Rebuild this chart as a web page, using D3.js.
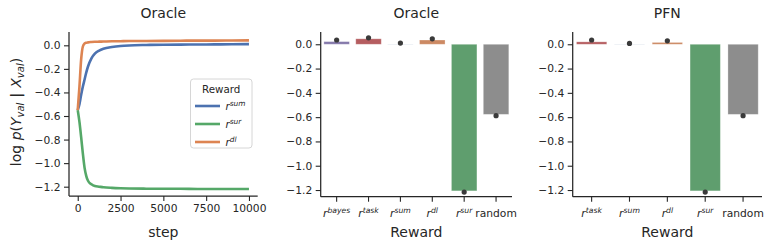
<!DOCTYPE html>
<html>
<head>
<meta charset="utf-8">
<script src="https://cdn.jsdelivr.net/npm/d3@7"></script>
<style>
  body { margin: 0; background: #fff; }
  svg text { font-family: "DejaVu Sans", sans-serif; fill: #262626; }
</style>
</head>
<body>
<script>
// ---- data ----
const steps     = [0, 100, 200, 300, 400, 500, 600, 800, 1000, 1250, 1500, 2000, 2500, 3000, 4000, 5000, 6000, 7000, 8000, 9000, 10000]
const curveSum  = [-0.55, -0.50, -0.42, -0.35, -0.29, -0.23, -0.18, -0.11, -0.07, -0.045, -0.03, -0.015, -0.006, -0.001, 0.003, 0.005, 0.006, 0.007, 0.008, 0.009, 0.01]
const curveSur  = [-0.55, -0.65, -0.78, -0.92, -1.04, -1.11, -1.15, -1.18, -1.195, -1.20, -1.205, -1.21, -1.213, -1.215, -1.217, -1.218, -1.218, -1.219, -1.219, -1.22, -1.22]
const curveDl   = [-0.55, -0.35, -0.12, -0.01, 0.015, 0.022, 0.025, 0.028, 0.03, 0.031, 0.032, 0.034, 0.035, 0.036, 0.037, 0.038, 0.039, 0.040, 0.040, 0.041, 0.042]
const curveKeys = ["sum", "sur", "dl"]

const oracleCats = ["bayes", "task", "sum", "dl", "sur", "random"]
const oracleBars = [0.022, 0.045, 0.001, 0.035, -1.207, -0.577]
const oracleDots = [0.035, 0.053, 0.010, 0.045, -1.217, -0.588]

const pfnCats = ["task", "sum", "dl", "sur", "random"]
const pfnBars = [0.020, 0.001, 0.015, -1.207, -0.577]
const pfnDots = [0.035, 0.007, 0.028, -1.217, -0.588]

const stepTicks = [0, 2500, 5000, 7500, 10000]
const yTicks = [0, -0.2, -0.4, -0.6, -0.8, -1.0, -1.2]

// seaborn "deep" palette, lines full colour, bars desaturated
const lineColor = { sum: "#4c72b0", sur: "#55a868", dl: "#dd8452" }
const barColor = { bayes: "#857aab", task: "#b55d60", sum: "#5975a4", dl: "#cc8963", sur: "#5f9e6e", random: "#8d8d8d" }

const W = 769, H = 247
const svg = d3.select("body").append("svg").attr("width", W).attr("height", H)

const fmt = d => d3.format(".1f")(d).replace("-", "\u2212")

function spines(g, x0, x1, y0, y1) {
    g.append("line").attr("x1", x0).attr("x2", x0).attr("y1", y0).attr("y2", y1)
        .attr("stroke", "#262626").attr("stroke-width", 1.25)
    g.append("line").attr("x1", x0).attr("x2", x1).attr("y1", y1).attr("y2", y1)
        .attr("stroke", "#262626").attr("stroke-width", 1.25)
}

function styleAxis(a) {
    a.select(".domain").remove()
    a.selectAll(".tick line").attr("stroke", "#262626").attr("stroke-width", 1.1)
    a.selectAll(".tick text").attr("font-size", 10.7).style("font-family", "DejaVu Sans")
}

function yAxis(g, y, x0) {
    const a = g.append("g").attr("transform", `translate(${x0},0)`)
        .call(d3.axisLeft(y).tickValues(yTicks).tickFormat(fmt).tickSize(5).tickPadding(3.5))
    styleAxis(a)
}

// r with italic superscript
function rLabel(sel, key, size) {
    if (key === "random") { sel.text("random"); return }
    sel.append("tspan").attr("font-style", "italic").text("r")
    sel.append("tspan").attr("font-style", "italic").attr("font-size", size * 0.72)
        .attr("dy", -size * 0.38).text(key)
}

function title(g, x, txt) {
    g.append("text").attr("x", x).attr("y", 18).attr("text-anchor", "middle")
        .attr("font-size", 14).text(txt)
}

// ---- panel 1: training curves ----
{
    const g = svg.append("g")
    const x0 = 69, x1 = 257.7, yt = 32, yb = 196
    const x = d3.scaleLinear().domain([-510, 10510]).range([x0, x1])
    const y = d3.scaleLinear().domain([-1.279, 0.113]).range([yb, yt])

    const line = d3.line().x((d, i) => x(steps[i])).y(d => y(d)).curve(d3.curveMonotoneX)
    const series = { sum: curveSum, sur: curveSur, dl: curveDl }
    curveKeys.forEach(k => {
        g.append("path").datum(series[k]).attr("d", line)
            .attr("fill", "none").attr("stroke", lineColor[k]).attr("stroke-width", 2.6)
    })

    spines(g, x0, x1, yt, yb)
    yAxis(g, y, x0)
    const ax = g.append("g").attr("transform", `translate(0,${yb})`)
        .call(d3.axisBottom(x).tickValues(stepTicks).tickFormat(d3.format("d")).tickSize(5).tickPadding(3.5))
    styleAxis(ax)

    title(g, (x0 + x1) / 2, "Oracle")
    g.append("text").attr("x", (x0 + x1) / 2).attr("y", 237).attr("text-anchor", "middle")
        .attr("font-size", 14).text("step")

    // y label: log p(Y_val | X_val)
    const yl = g.append("text").attr("transform", "translate(21,112) rotate(-90)")
        .attr("text-anchor", "middle").attr("font-size", 14)
    yl.append("tspan").text("log ")
    yl.append("tspan").attr("font-style", "italic").text("p")
    yl.append("tspan").text("(")
    yl.append("tspan").attr("font-style", "italic").text("Y")
    yl.append("tspan").attr("font-style", "italic").attr("font-size", 10).attr("dy", 3).text("val")
    yl.append("tspan").attr("dy", -3).attr("font-weight", "bold").text(" | ")
    yl.append("tspan").attr("font-style", "italic").text("X")
    yl.append("tspan").attr("font-style", "italic").attr("font-size", 10).attr("dy", 3).text("val")
    yl.append("tspan").attr("dy", -3).text(")")

    // legend
    const lg = g.append("g").attr("transform", "translate(190.5,79)")
    lg.append("rect").attr("width", 61.5).attr("height", 69).attr("rx", 3)
        .attr("fill", "#fff").attr("fill-opacity", 0.8).attr("stroke", "#d6d6d6")
    lg.append("text").attr("x", 30.75).attr("y", 14).attr("text-anchor", "middle")
        .attr("font-size", 10.3).text("Reward")
    curveKeys.forEach((k, i) => {
        const yy = 27 + i * 18
        lg.append("line").attr("x1", 4.5).attr("x2", 29.5).attr("y1", yy).attr("y2", yy)
            .attr("stroke", lineColor[k]).attr("stroke-width", 2.6)
        const t = lg.append("text").attr("x", 35).attr("y", yy + 4).attr("font-size", 10.3)
        rLabel(t, k, 10.3)
    })
}

// ---- bar panels ----
function barPanel(cats, bars, dots, x0, x1, name) {
    const g = svg.append("g")
    const yt = 32, yb = 196.7
    const x = d3.scaleBand().domain(cats).range([x0, x1]).padding(0)
    const y = d3.scaleLinear().domain([-1.255, 0.101]).range([yb, yt])
    const bw = x.bandwidth() * 0.8

    g.selectAll("rect.bar").data(cats).join("rect").attr("class", "bar")
        .attr("x", d => x(d) + (x.bandwidth() - bw) / 2)
        .attr("width", bw)
        .attr("y", (d, i) => y(Math.max(0, bars[i])))
        .attr("height", (d, i) => Math.abs(y(bars[i]) - y(0)))
        .attr("fill", d => barColor[d])
        .attr("stroke", "#fff").attr("stroke-opacity", 0.35).attr("stroke-width", 0.8)

    g.selectAll("circle.dot").data(cats).join("circle").attr("class", "dot")
        .attr("cx", d => x(d) + x.bandwidth() / 2)
        .attr("cy", (d, i) => y(dots[i]))
        .attr("r", 2.6).attr("fill", "#3a3a3a")

    spines(g, x0, x1, yt, yb)
    yAxis(g, y, x0)

    const ax = g.append("g").attr("transform", `translate(0,${yb})`)
        .call(d3.axisBottom(x).tickSize(5).tickPadding(3.5))
    styleAxis(ax)
    ax.selectAll(".tick text").each(function(d) {
        const t = d3.select(this).text(null).attr("dy", "1.15em")
        rLabel(t, d, 10.7)
    })

    title(g, (x0 + x1) / 2, name)
    g.append("text").attr("x", (x0 + x1) / 2).attr("y", 237).attr("text-anchor", "middle")
        .attr("font-size", 14).text("Reward")
}

barPanel(oracleCats, oracleBars, oracleDots, 320.7, 512, "Oracle")
barPanel(pfnCats, pfnBars, pfnDots, 572.7, 762, "PFN")
</script>
</body>
</html>
